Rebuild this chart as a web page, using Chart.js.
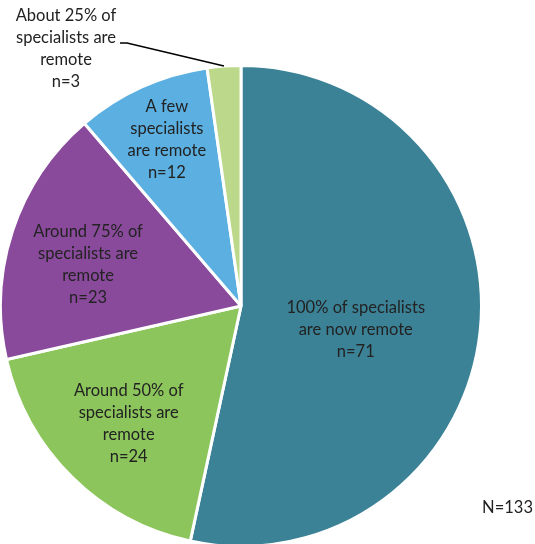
<!DOCTYPE html>
<html>
<head>
<meta charset="utf-8">
<script src="https://cdn.jsdelivr.net/npm/chart.js@4"></script>
<style>
  html, body { margin: 0; padding: 0; background: #fff; overflow: hidden; }
  #wrap { position: absolute; left: -2px; top: 0; width: 539px; height: 560px; }
</style>
</head>
<body>
<div id="wrap"><canvas id="remote-chart"></canvas></div>
<script>
// slices go clockwise from 12 o'clock
const categories = [
    ['100% of specialists', 'are now remote'],
    ['Around 50% of', 'specialists are', 'remote'],
    ['Around 75% of', 'specialists are', 'remote'],
    ['A few', 'specialists', 'are remote'],
    ['About 25% of', 'specialists are', 'remote']
];
const counts = [71, 24, 23, 12, 3];
const totalLabel = 'N=133';

const sliceColors = ['#3b8296', '#8cc55b', '#8a4a9c', '#5bb0e1', '#bcd98b'];

// inside label placement: [fraction of radius, degrees off the slice's mid angle]
const labelPlace = [[0.4875, 5.75], [0.675, -0.9], [0.659, -3.05], [0.759, 0.4]];

const lineH = 22;

function drawBlock(ctx, lines, x, y) {
    const top = y - (lines.length - 1) * lineH / 2;
    lines.forEach((t, i) => ctx.fillText(t, x, top + i * lineH));
}

const sliceLabels = {
    id: 'sliceLabels',
    afterDraw(chart) {
        const ctx = chart.ctx;
        const arcs = chart.getDatasetMeta(0).data;
        ctx.save();
        ctx.font = '16.5px Lato';
        ctx.fillStyle = '#222';
        ctx.textAlign = 'center';
        ctx.textBaseline = 'middle';

        arcs.forEach((arc, i) => {
            const lines = categories[i].concat(['n=' + counts[i]]);
            const mid = (arc.startAngle + arc.endAngle) / 2;
            if (i < labelPlace.length) {
                const r = arc.outerRadius * labelPlace[i][0];
                const a = mid + labelPlace[i][1] * Math.PI / 180;
                drawBlock(ctx, lines, arc.x + Math.cos(a) * r, arc.y + Math.sin(a) * r);
            } else {
                // small slice: label outside with a leader line
                const ex = arc.x + Math.cos(mid) * arc.outerRadius;
                const ey = arc.y + Math.sin(mid) * arc.outerRadius;
                ctx.strokeStyle = '#000';
                ctx.lineWidth = 1.5;
                ctx.beginPath();
                ctx.moveTo(ex, ey);
                ctx.lineTo(129, 43);
                ctx.lineTo(122, 43);
                ctx.stroke();
                drawBlock(ctx, lines, 68, 48.5);
            }
        });

        ctx.textAlign = 'right';
        ctx.fillText(totalLabel, 535, 508);
        ctx.restore();
    }
};

const ctxPie = document.getElementById('remote-chart').getContext('2d');
new Chart(ctxPie, {
    type: 'pie',
    data: {
        labels: categories.map(c => c.join(' ')),
        datasets: [{
            data: counts,
            backgroundColor: sliceColors,
            borderColor: '#ffffff',
            borderWidth: 3
        }]
    },
    options: {
        responsive: true,
        maintainAspectRatio: false,
        animation: false,
        layout: {
            padding: { left: 1, right: 54, top: 64, bottom: 12 }
        },
        plugins: {
            legend: { display: false },
            tooltip: { enabled: false }
        }
    },
    plugins: [sliceLabels]
});
</script>
</body>
</html>
